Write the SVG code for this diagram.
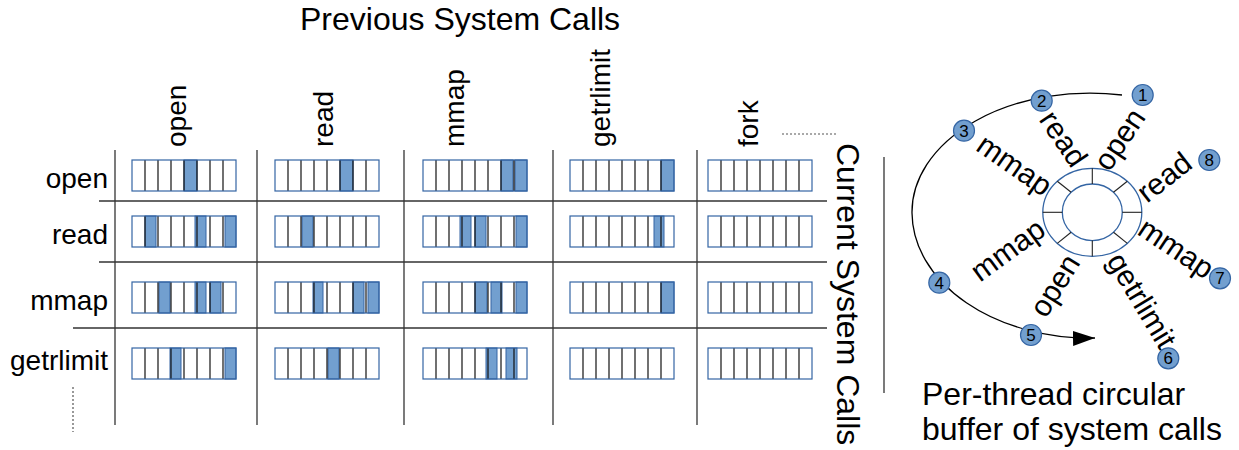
<svg xmlns="http://www.w3.org/2000/svg" width="1239" height="450" viewBox="0 0 1239 450">
<style>
text{font-family:"Liberation Sans",Arial,sans-serif;fill:#000}
.t28{font-size:28px}
.t30{font-size:30px}
.t32{font-size:32px}
.num{font-size:17px;text-anchor:middle}
.grid{stroke:#333;stroke-width:1.3;fill:none}
.dot{stroke:#555;stroke-width:1.2;stroke-dasharray:2,2;fill:none}
.box{fill:none;stroke:#3465a4;stroke-width:1.2}
.bg{fill:#fff}
.on{fill:#729fcf;stroke:#3465a4;stroke-width:1}
.div{stroke:#111;stroke-width:1.2}
.badge{fill:#729fcf;stroke:#3465a4;stroke-width:1.2}
.ring{fill:#fff;stroke:#3465a4;stroke-width:1.3}
.spoke{stroke:#222;stroke-width:1.1}
</style>
<defs>
<g id="dividers">
<line class="div" x1="13" y1="0" x2="13" y2="31"/>
<line class="div" x1="26" y1="0" x2="26" y2="31"/>
<line class="div" x1="39" y1="0" x2="39" y2="31"/>
<line class="div" x1="52" y1="0" x2="52" y2="31"/>
<line class="div" x1="65" y1="0" x2="65" y2="31"/>
<line class="div" x1="78" y1="0" x2="78" y2="31"/>
<line class="div" x1="91" y1="0" x2="91" y2="31"/>
</g>
<marker id="arrow" markerUnits="userSpaceOnUse" markerWidth="24" markerHeight="16" refX="22" refY="7.5" orient="auto">
<path d="M0,0 L22,7.5 L0,15 z" fill="#000"/>
</marker>
</defs>

<g id="title"><text class="t32" x="300" y="30">Previous System Calls</text></g>
<g id="col-labels">
<text class="t28" transform="translate(186,147) rotate(-90)">open</text>
<text class="t28" transform="translate(333,147) rotate(-90)">read</text>
<text class="t28" transform="translate(464,147) rotate(-90)">mmap</text>
<text class="t28" transform="translate(610,147) rotate(-90)">getrlimit</text>
<text class="t28" transform="translate(758,147) rotate(-90)">fork</text>
</g>
<g id="row-labels" text-anchor="end">
<text class="t28" x="108" y="188" text-anchor="end">open</text>
<text class="t28" x="108" y="244" text-anchor="end">read</text>
<text class="t28" x="108" y="310" text-anchor="end">mmap</text>
<text class="t28" x="108" y="370" text-anchor="end">getrlimit</text>
</g>
<g id="current-label"><text class="t32" transform="translate(837,143) rotate(90)">Current System Calls</text></g>

<g id="grid">
<line class="grid" x1="115" y1="150" x2="115" y2="425"/>
<line class="grid" x1="257" y1="150" x2="257" y2="425"/>
<line class="grid" x1="404" y1="150" x2="404" y2="425"/>
<line class="grid" x1="553" y1="150" x2="553" y2="425"/>
<line class="grid" x1="697" y1="150" x2="697" y2="425"/>
<line class="grid" x1="99" y1="201" x2="827" y2="201"/>
<line class="grid" x1="99" y1="262" x2="827" y2="262"/>
<line class="grid" x1="73" y1="328" x2="827" y2="328"/>
<line class="grid" x1="884" y1="157" x2="884" y2="393"/>
<line class="dot" x1="782" y1="134" x2="838" y2="134"/>
<line class="dot" x1="73" y1="387" x2="73" y2="432"/>
</g>

<!-- row open -->
<g id="cell-open-open" transform="translate(132,160)"><rect class="bg" width="104" height="31"/><rect class="on" x="52" width="13" height="31"/><use href="#dividers"/><rect class="box" width="104" height="31"/></g>
<g id="cell-open-read" transform="translate(275,160)"><rect class="bg" width="104" height="31"/><rect class="on" x="65" width="13" height="31"/><use href="#dividers"/><rect class="box" width="104" height="31"/></g>
<g id="cell-open-mmap" transform="translate(423,160)"><rect class="bg" width="104" height="31"/><rect class="on" x="78" width="12" height="31"/><rect class="on" x="92" width="12" height="31"/><use href="#dividers"/><rect class="box" width="104" height="31"/></g>
<g id="cell-open-getrlimit" transform="translate(570,160)"><rect class="bg" width="104" height="31"/><rect class="on" x="91" width="13" height="31"/><use href="#dividers"/><rect class="box" width="104" height="31"/></g>
<g id="cell-open-fork" transform="translate(708,160)"><rect class="bg" width="104" height="31"/><use href="#dividers"/><rect class="box" width="104" height="31"/></g>
<!-- row read -->
<g id="cell-read-open" transform="translate(132,216)"><rect class="bg" width="104" height="31"/><rect class="on" x="13" width="11" height="31"/><rect class="on" x="63" width="11" height="31"/><rect class="on" x="93" width="11" height="31"/><use href="#dividers"/><rect class="box" width="104" height="31"/></g>
<g id="cell-read-read" transform="translate(275,216)"><rect class="bg" width="104" height="31"/><rect class="on" x="27" width="11" height="31"/><use href="#dividers"/><rect class="box" width="104" height="31"/></g>
<g id="cell-read-mmap" transform="translate(423,216)"><rect class="bg" width="104" height="31"/><rect class="on" x="37" width="11" height="31"/><rect class="on" x="52" width="11" height="31"/><rect class="on" x="93" width="11" height="31"/><use href="#dividers"/><rect class="box" width="104" height="31"/></g>
<g id="cell-read-getrlimit" transform="translate(570,216)"><rect class="bg" width="104" height="31"/><rect class="on" x="84" width="10" height="31"/><use href="#dividers"/><rect class="box" width="104" height="31"/></g>
<g id="cell-read-fork" transform="translate(708,216)"><rect class="bg" width="104" height="31"/><use href="#dividers"/><rect class="box" width="104" height="31"/></g>
<!-- row mmap -->
<g id="cell-mmap-open" transform="translate(132,282)"><rect class="bg" width="104" height="31"/><rect class="on" x="27" width="11" height="31"/><rect class="on" x="63" width="11" height="31"/><rect class="on" x="78" width="11" height="31"/><use href="#dividers"/><rect class="box" width="104" height="31"/></g>
<g id="cell-mmap-read" transform="translate(275,282)"><rect class="bg" width="104" height="31"/><rect class="on" x="38" width="10" height="31"/><rect class="on" x="78" width="11" height="31"/><rect class="on" x="93" width="11" height="31"/><use href="#dividers"/><rect class="box" width="104" height="31"/></g>
<g id="cell-mmap-mmap" transform="translate(423,282)"><rect class="bg" width="104" height="31"/><rect class="on" x="52" width="12" height="31"/><rect class="on" x="68" width="11" height="31"/><rect class="on" x="93" width="11" height="31"/><use href="#dividers"/><rect class="box" width="104" height="31"/></g>
<g id="cell-mmap-getrlimit" transform="translate(570,282)"><rect class="bg" width="104" height="31"/><rect class="on" x="91" width="13" height="31"/><use href="#dividers"/><rect class="box" width="104" height="31"/></g>
<g id="cell-mmap-fork" transform="translate(708,282)"><rect class="bg" width="104" height="31"/><use href="#dividers"/><rect class="box" width="104" height="31"/></g>
<!-- row getrlimit -->
<g id="cell-getrlimit-open" transform="translate(132,348)"><rect class="bg" width="104" height="31"/><rect class="on" x="38" width="11" height="31"/><rect class="on" x="93" width="11" height="31"/><use href="#dividers"/><rect class="box" width="104" height="31"/></g>
<g id="cell-getrlimit-read" transform="translate(275,348)"><rect class="bg" width="104" height="31"/><rect class="on" x="53" width="11" height="31"/><use href="#dividers"/><rect class="box" width="104" height="31"/></g>
<g id="cell-getrlimit-mmap" transform="translate(423,348)"><rect class="bg" width="104" height="31"/><rect class="on" x="63" width="11" height="31"/><rect class="on" x="83" width="11" height="31"/><use href="#dividers"/><rect class="box" width="104" height="31"/></g>
<g id="cell-getrlimit-getrlimit" transform="translate(570,348)"><rect class="bg" width="104" height="31"/><use href="#dividers"/><rect class="box" width="104" height="31"/></g>
<g id="cell-getrlimit-fork" transform="translate(708,348)"><rect class="bg" width="104" height="31"/><use href="#dividers"/><rect class="box" width="104" height="31"/></g>

<g id="connectors">
<path d="M1122,95 A178,119 0 0 0 912,213 A178,126 0 0 0 1095,338" fill="none" stroke="#000" stroke-width="1.3" marker-end="url(#arrow)"/>
</g>

<g id="ring">
<ellipse class="ring" cx="1092.3" cy="212.3" rx="49.5" ry="44"/>
<ellipse class="ring" cx="1092.3" cy="212.3" rx="30" ry="28.3"/>
<line class="spoke" x1="1092.3" y1="168.3" x2="1092.3" y2="184"/>
<line class="spoke" x1="1092.3" y1="240.6" x2="1092.3" y2="256.3"/>
<line class="spoke" x1="1042.8" y1="212.3" x2="1062.3" y2="212.3"/>
<line class="spoke" x1="1122.3" y1="212.3" x2="1141.8" y2="212.3"/>
<line class="spoke" x1="1057.3" y1="181.2" x2="1071.1" y2="192.3"/>
<line class="spoke" x1="1127.3" y1="181.2" x2="1113.5" y2="192.3"/>
<line class="spoke" x1="1057.3" y1="243.4" x2="1071.1" y2="232.3"/>
<line class="spoke" x1="1127.3" y1="243.4" x2="1113.5" y2="232.3"/>
</g>

<g id="ring-labels" text-anchor="middle">
<text class="t30" text-anchor="middle" transform="translate(1055,144.5) rotate(56)">read</text>
<text class="t30" text-anchor="middle" transform="translate(1128,145) rotate(-56)">open</text>
<text class="t30" text-anchor="middle" transform="translate(1170.6,185.3) rotate(-38)">read</text>
<text class="t30" text-anchor="middle" transform="translate(1170.6,256.7) rotate(34)">mmap</text>
<text class="t30" text-anchor="middle" transform="translate(1133,305.8) rotate(59)">getrlimit</text>
<text class="t30" text-anchor="middle" transform="translate(1063.5,290.9) rotate(-58)">open</text>
<text class="t30" text-anchor="middle" transform="translate(1013.7,258.2) rotate(-36)">mmap</text>
<text class="t30" text-anchor="middle" transform="translate(1008.7,173.3) rotate(35)">mmap</text>
</g>

<g id="badge-1"><circle class="badge" cx="1142.7" cy="95" r="10.5"/><text class="num" x="1142.7" y="101">1</text></g>
<g id="badge-2"><circle class="badge" cx="1041.7" cy="100.7" r="10.5"/><text class="num" x="1041.7" y="106.7">2</text></g>
<g id="badge-3"><circle class="badge" cx="964" cy="130.7" r="10.5"/><text class="num" x="964" y="136.7">3</text></g>
<g id="badge-4"><circle class="badge" cx="939.3" cy="282.7" r="10.5"/><text class="num" x="939.3" y="288.7">4</text></g>
<g id="badge-5"><circle class="badge" cx="1031" cy="335" r="10.5"/><text class="num" x="1031" y="341">5</text></g>
<g id="badge-6"><circle class="badge" cx="1168.3" cy="358.3" r="10.5"/><text class="num" x="1168.3" y="364.3">6</text></g>
<g id="badge-7"><circle class="badge" cx="1220" cy="278.3" r="10.5"/><text class="num" x="1220" y="284.3">7</text></g>
<g id="badge-8"><circle class="badge" cx="1209.3" cy="160" r="10.5"/><text class="num" x="1209.3" y="166">8</text></g>

<g id="caption">
<text class="t32" x="922" y="405">Per-thread circular</text>
<text class="t32" x="922" y="440">buffer of system calls</text>
</g>
</svg>
